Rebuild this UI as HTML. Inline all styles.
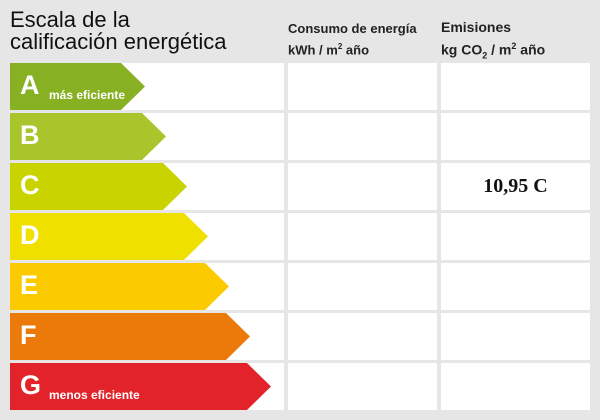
<!DOCTYPE html>
<html><head><meta charset="utf-8"><style>
body{margin:0;width:600px;height:420px;background:#e6e6e6;font-family:"Liberation Sans",sans-serif;overflow:hidden;position:relative}
.t{position:absolute;color:#111}
.cell{position:absolute;background:#fff}
.let{position:absolute;color:#fff;font-weight:bold;font-size:27px;left:20px}
.sub{position:absolute;color:#fff;font-weight:bold;font-size:12px}
</style></head><body>
<div class="t" style="left:10px;top:9px;font-size:22px;line-height:22px;">Escala de la<br>calificación energética</div>
<div class="t" style="left:288px;top:20px;font-size:13px;font-weight:bold;line-height:18px;color:#222">Consumo de energía<br>kWh / m<sup style="font-size:8px">2</sup> año</div>
<div class="t" style="left:441px;top:18px;font-size:14px;font-weight:bold;line-height:19px;color:#222">Emisiones<br>kg CO<sub style="font-size:9px">2</sub> / m<sup style="font-size:9px">2</sup> año</div>
<svg id="s" width="600" height="420" style="position:absolute;left:0;top:0"></svg>
<div id="cells"></div>
<script>
const labels=["A","B","C","D","E","F","G"];
const colors=["#87b023","#a8c62c","#c8d300","#efe000","#fbcb00","#ec7a0b","#e2232a"];
const subs=["más eficiente","","","","","","menos eficiente"];
const energyValues=["","","","","","",""];
const emissionValues=["","","10,95 C","","","",""];
const svg=document.getElementById('s');const ns="http://www.w3.org/2000/svg";
labels.forEach((l,i)=>{
 const y=63+i*50,h=47;
 [[10,274,'rating-row-'+l],[288,149,'energy-cell-'+l],[441,149,'emission-cell-'+l]].forEach(c=>{
  const d=document.createElement('div');d.className='cell';
  
  
  d.style.cssText=`left:${c[0]}px;top:${y}px;width:${c[1]}px;height:${h}px`;
  document.body.insertBefore(d,svg);
 });
 const tip=145+i*21,body=tip-24;
 const p=document.createElementNS(ns,'polygon');
 p.setAttribute('points',`10,${y} ${body},${y} ${tip},${y+h/2} ${body},${y+h} 10,${y+h}`);
 p.setAttribute('fill',colors[i]);
 
 
 svg.appendChild(p);
 const t=document.createElement('div');t.className='let';t.textContent=l;
 
 
 t.style.top=(y+7)+'px';document.body.appendChild(t);
 if(subs[i]){const s=document.createElement('div');s.className='sub';s.textContent=subs[i];
  
  
  s.style.cssText=`left:49px;top:${y+25}px`;document.body.appendChild(s);}
 if(emissionValues[i]){const v=document.createElement('div');v.textContent=emissionValues[i];
  
  
  v.style.cssText=`position:absolute;left:441px;width:149px;text-align:center;top:${y+12}px;font:bold 20px "Liberation Serif",serif;color:#111`;
  document.body.appendChild(v);}
 if(energyValues[i]){const v=document.createElement('div');v.textContent=energyValues[i];
  
  
  v.style.cssText=`position:absolute;left:288px;width:149px;text-align:center;top:${y+12}px;font:bold 20px "Liberation Serif",serif;color:#111`;
  document.body.appendChild(v);}
});
</script>
</body></html>
